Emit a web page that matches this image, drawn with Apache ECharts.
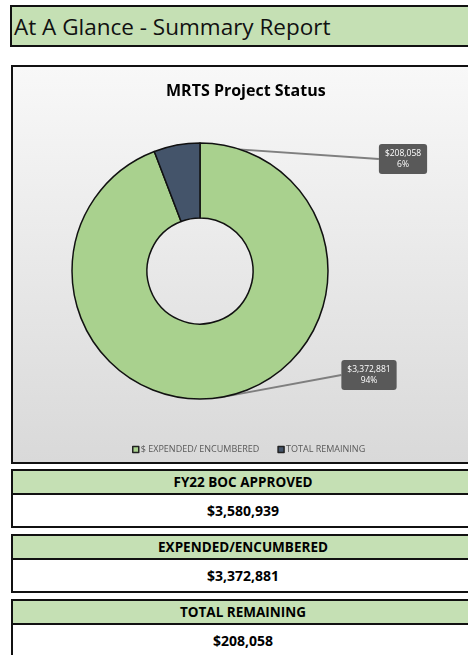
<!DOCTYPE html>
<html>
<head>
<meta charset="utf-8">
<script src="https://cdn.jsdelivr.net/npm/echarts@6/dist/echarts.min.js"></script>
<style>
  html, body { margin: 0; padding: 0; width: 468px; height: 655px; overflow: hidden; background: #fff; font-family: "Open Sans", sans-serif; }
  .hdr { position: absolute; left: 10px; top: 5px; width: 470px; height: 38px; border: 2px solid #111; background: #c5e0b4; font-size: 22.5px; line-height: 40px; padding-left: 2px; color: #111; }
  #chart { position: absolute; left: 11px; top: 65px; width: 470px; height: 395px; border: 2px solid #111; background: linear-gradient(#f8f8f8, #d9d9d9); }
  .box { position: absolute; left: 11px; width: 460px; border: 2px solid #111; }
  .box .t { background: #c5e0b4; height: 22px; line-height: 23px; text-align: center; font-weight: bold; font-size: 13.5px; border-bottom: 2px solid #111; }
  .box .v { background: #fff; height: 31px; line-height: 31px; text-align: center; font-weight: bold; font-size: 14px; }
</style>
</head>
<body>
<div class="hdr" id="hdr"></div>
<div id="chart"></div>
<div id="boxes"></div>
<script>
  // chart data
  var pageTitle = 'At A Glance - Summary Report';
  var chartTitle = 'MRTS Project Status';
  var categories = ['$ EXPENDED/ ENCUMBERED', 'TOTAL REMAINING'];
  var amounts = [3372881, 208058];
  var colors = ['#a9d18e', '#44546a'];

  // summary boxes
  var summaryTitles = ['FY22 BOC APPROVED', 'EXPENDED/ENCUMBERED', 'TOTAL REMAINING'];
  var summaryValues = [3580939, 3372881, 208058];
  var boxTops = [469, 534, 599];

  function money(v) {
    return '$' + v.toLocaleString('en-US');
  }

  document.getElementById('hdr').textContent = pageTitle;

  var boxes = document.getElementById('boxes');
  summaryTitles.forEach(function(t, i) {
    var b = document.createElement('div');
    b.className = 'box';
    b.style.top = boxTops[i] + 'px';
    b.innerHTML = '<div class="t"></div><div class="v"></div>';
    b.querySelector('.t').textContent = t;
    b.querySelector('.v').textContent = money(summaryValues[i]);
    boxes.appendChild(b);
  });

  var labelPos = [[356, 308], [390, 92]];

  var chart = echarts.init(document.getElementById('chart'));
  chart.setOption({
    color: colors,
    title: {
      text: chartTitle,
      left: 148,
      top: 11,
      textStyle: { fontSize: 16, fontWeight: 'bold', color: '#000', fontFamily: 'Open Sans' }
    },
    legend: {
      data: categories,
      left: 114,
      top: 373,
      icon: 'rect',
      itemWidth: 6,
      itemHeight: 6,
      itemGap: 18,
      itemStyle: { borderColor: '#222', borderWidth: 1.5 },
      textStyle: { fontSize: 9, color: '#595959', fontFamily: 'Open Sans', padding: [0, 0, 0, -3] }
    },
    series: [{
      type: 'pie',
      center: [187, 204],
      radius: [53, 128],
      startAngle: 90,
      clockwise: true,
      avoidLabelOverlap: false,
      itemStyle: { borderColor: '#111', borderWidth: 1.5 },
      label: {
        show: true,
        position: 'outside',
        formatter: function(p) {
          return money(p.value) + '\n' + Math.round(p.percent) + '%';
        },
        backgroundColor: '#595959',
        borderRadius: 3,
        padding: [4, 6],
        color: '#fff',
        fontSize: 8.5,
        lineHeight: 11,
        align: 'center',
        fontFamily: 'Open Sans'
      },
      labelLine: {
        show: true,
        length: 8,
        length2: 0,
        lineStyle: { color: '#7f7f7f', width: 2 }
      },
      labelLayout: function(params) {
        var p = labelPos[params.dataIndex];
        return { x: p[0], y: p[1], align: 'center', verticalAlign: 'middle' };
      },
      data: categories.map(function(c, i) {
        return { name: c, value: amounts[i] };
      })
    }]
  });
</script>
</body>
</html>
